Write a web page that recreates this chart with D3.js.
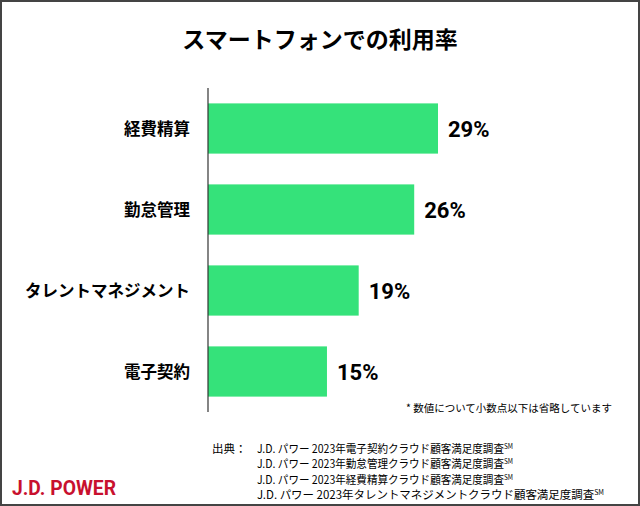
<!DOCTYPE html>
<html><head><meta charset="utf-8">
<script src="https://cdn.jsdelivr.net/npm/d3@7"></script>
<style>body{margin:0;background:#fff}svg{display:block;font-family:"Noto Sans CJK JP",sans-serif}</style>
</head><body><div id="chart"></div>
<script>
const categories = ["経費精算", "勤怠管理", "タレントマネジメント", "電子契約"];
const values = [29, 26, 19, 15];
const sources = [
  "J.D. パワー 2023年電子契約クラウド顧客満足度調査",
  "J.D. パワー 2023年勤怠管理クラウド顧客満足度調査",
  "J.D. パワー 2023年経費精算クラウド顧客満足度調査",
  "J.D. パワー 2023年タレントマネジメントクラウド顧客満足度調査"
];

const W = 640, H = 506;
const svg = d3.select("#chart").append("svg").attr("width", W).attr("height", H);
svg.append("rect").attr("x", 1).attr("y", 1).attr("width", W - 2).attr("height", H - 2)
  .attr("fill", "#fff").attr("stroke", "#444").attr("stroke-width", 2);

svg.append("text").attr("x", 320).attr("y", 48).attr("text-anchor", "middle")
  .attr("font-size", 23).attr("font-weight", 700).text("スマートフォンでの利用率");

const x0 = 208;
const x = d3.scaleLinear().domain([0, 29]).range([x0, 438]);
const y = d3.scaleBand().domain(categories).range([88, 412]).paddingInner(0.38).paddingOuter(0.19);

svg.selectAll(".bar").data(values).enter().append("rect")
  .attr("x", x0).attr("y", (d, i) => y(categories[i]))
  .attr("width", d => x(d) - x0).attr("height", y.bandwidth())
  .attr("fill", "#35E27A");

svg.append("line").attr("x1", x0).attr("x2", x0).attr("y1", 88).attr("y2", 412)
  .attr("stroke", "#333").attr("stroke-width", 1.2);

svg.selectAll(".cat").data(categories).enter().append("text")
  .attr("x", 190).attr("y", d => y(d) + y.bandwidth() / 2 + 6)
  .attr("text-anchor", "end").attr("font-size", 16.5).attr("font-weight", 700).text(d => d);

svg.selectAll(".val").data(values).enter().append("text")
  .attr("x", d => x(d) + 10).attr("y", (d, i) => y(categories[i]) + y.bandwidth() / 2 + 8)
  .attr("font-size", 22).attr("font-weight", 700).attr("font-family", "Roboto, sans-serif")
  .text(d => d + "%");

svg.append("text").attr("x", 612).attr("y", 412).attr("text-anchor", "end")
  .attr("font-size", 10.5).text("* 数値について小数点以下は省略しています");

svg.append("text").attr("x", 212).attr("y", 453).attr("font-size", 11.5).text("出典：");
sources.forEach((s, i) => {
  const t = svg.append("text").attr("x", 257).attr("y", 453 + i * 15.3).attr("font-size", 11.5)
    .attr("textLength", i === 3 ? 347 : 256).attr("lengthAdjust", "spacingAndGlyphs").text(s);
  t.append("tspan").attr("font-size", 7).attr("dy", -4).text("SM");
});

svg.append("text").attr("x", 12).attr("y", 495).attr("font-size", 20).attr("font-weight", 700)
  .attr("font-family", "Roboto, sans-serif").attr("fill", "#C8102E")
  .attr("textLength", 104).attr("lengthAdjust", "spacingAndGlyphs").text("J.D. POWER");
</script></body></html>
